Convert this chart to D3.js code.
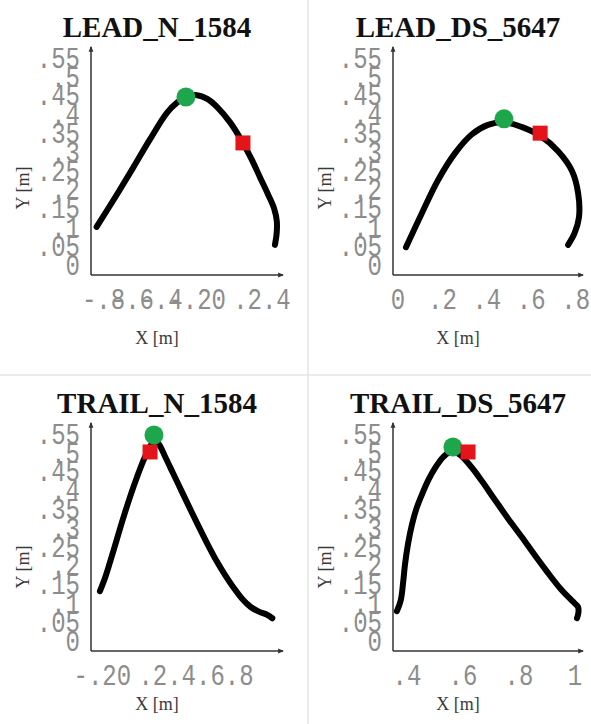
<!DOCTYPE html>
<html lang="en">
<head>
<meta charset="UTF-8">
<title>Trajectories</title>
<style>
  body { margin: 0; background: #fff; }
  .title { font-family: "Liberation Serif", "Times New Roman", serif; font-weight: bold; font-size: 29px; fill: #111; }
  .tick { font-family: "Liberation Mono", "Courier New", monospace; font-size: 24px; fill: #8c8c8c; }
  .axlab { font-family: "Liberation Serif", "Times New Roman", serif; font-size: 18px; fill: #3a3a3a; }
  .axis { stroke: #333; stroke-width: 1.5; fill: none; }
  .sep { stroke: #e4e4e4; stroke-width: 1.5; }
</style>
</head>
<body>
<svg></svg>
<script src="https://d3js.org/d3.v7.min.js"></script>
<script>
const width = 591, height = 724;

// shared y ticks (metres)
const yTicks = [0, .05, .1, .15, .2, .25, .3, .35, .4, .45, .5, .55];
const yDomain = [-0.021, 0.585];

// LEAD_N_1584
const leadNX = [-0.848, -0.72, -0.596, -0.48, -0.36, -0.29, -0.228, -0.151, -0.08, -0.0125, 0.08, 0.168, 0.23, 0.286, 0.34, 0.385, 0.403, 0.402, 0.39];
const leadNY = [0.107, 0.185, 0.263, 0.338, 0.410, 0.437, 0.452, 0.457, 0.447, 0.426, 0.384, 0.330, 0.285, 0.239, 0.195, 0.155, 0.122, 0.09, 0.059];
const leadNTicks = [-.8, -.6, -.4, -.2, 0, .2, .4];
const leadNDomain = [-0.887, 0.446];
const leadNGreen = [-0.228, 0.452], leadNRed = [0.168, 0.330];

// LEAD_DS_5647
const leadDSX = [0.036, 0.108, 0.18, 0.257, 0.333, 0.405, 0.477, 0.559, 0.64, 0.721, 0.784, 0.811, 0.815, 0.795, 0.766];
const leadDSY = [0.053, 0.144, 0.231, 0.303, 0.353, 0.378, 0.385, 0.372, 0.349, 0.308, 0.255, 0.197, 0.133, 0.09, 0.059];
const leadDSTicks = [0, .2, .4, .6, .8];
const leadDSDomain = [-0.0225, 0.833];
const leadDSGreen = [0.477, 0.394], leadDSRed = [0.640, 0.356];

// TRAIL_N_1584
const trailNX = [-0.167, -0.13, -0.097, -0.05, -0.007, 0.045, 0.09, 0.14, 0.181, 0.21, 0.24, 0.29, 0.34, 0.40, 0.46, 0.52, 0.58, 0.64, 0.70, 0.76, 0.82, 0.88, 0.94, 0.99, 1.03];
const trailNY = [0.138, 0.175, 0.215, 0.275, 0.330, 0.392, 0.441, 0.490, 0.522, 0.538, 0.530, 0.492, 0.452, 0.404, 0.356, 0.309, 0.263, 0.220, 0.182, 0.148, 0.118, 0.096, 0.083, 0.076, 0.066];
const trailNTicks = [-.2, 0, .2, .4, .6, .8];
const trailNDomain = [-0.229, 1.104];
const trailNGreen = [0.208, 0.553], trailNRed = [0.181, 0.508];

// TRAIL_DS_5647
const trailDSX = [0.364, 0.378, 0.386, 0.393, 0.404, 0.418, 0.434, 0.454, 0.476, 0.50, 0.53, 0.56, 0.59, 0.63, 0.67, 0.71, 0.76, 0.81, 0.86, 0.90, 0.95, 0.99, 1.011, 1.012, 1.007];
const trailDSY = [0.085, 0.115, 0.16, 0.210, 0.265, 0.316, 0.358, 0.396, 0.433, 0.465, 0.495, 0.510, 0.500, 0.468, 0.428, 0.385, 0.332, 0.282, 0.230, 0.190, 0.143, 0.112, 0.096, 0.08, 0.066];
const trailDSTicks = [.4, .6, .8, 1];
const trailDSDomain = [0.35, 1.0286];
const trailDSGreen = [0.564, 0.521], trailDSRed = [0.618, 0.508];

const panels = [
  {title: "LEAD_N_1584",   xs: leadNX,   ys: leadNY,   ticks: leadNTicks,   dom: leadNDomain,   green: leadNGreen,   red: leadNRed,   col: 0, row: 0},
  {title: "LEAD_DS_5647",  xs: leadDSX,  ys: leadDSY,  ticks: leadDSTicks,  dom: leadDSDomain,  green: leadDSGreen,  red: leadDSRed,  col: 1, row: 0},
  {title: "TRAIL_N_1584",  xs: trailNX,  ys: trailNY,  ticks: trailNTicks,  dom: trailNDomain,  green: trailNGreen,  red: trailNRed,  col: 0, row: 1},
  {title: "TRAIL_DS_5647", xs: trailDSX, ys: trailDSY, ticks: trailDSTicks, dom: trailDSDomain, green: trailDSGreen, red: trailDSRed, col: 1, row: 1, redOnTop: true}
];

const cols = [{x0: 91, x1: 283}, {x0: 393, x1: 583}];
const rows = [{top: 47, bottom: 275, xTitle: 344, yTitle: 188}, {top: 423, bottom: 651, xTitle: 710, yTitle: 567}];

const fmt = v => {
  if (Math.abs(v) < 1e-9) return "0";
  let s = d3.format("~g")(Math.abs(v)).replace(/^0\./, ".");
  return (v < 0 ? "-" : "") + s;
};

const svg = d3.select("svg").attr("width", width).attr("height", height);

svg.append("defs").append("marker")
    .attr("id", "arr")
    .attr("viewBox", "0 0 10 10")
    .attr("refX", 8).attr("refY", 5)
    .attr("markerWidth", 4).attr("markerHeight", 4)
    .attr("orient", "auto")
  .append("path")
    .attr("d", "M0,1 L10,5 L0,9 z")
    .attr("fill", "#333");

// panel separators
svg.append("line").attr("class", "sep").attr("x1", 308).attr("x2", 308).attr("y1", 0).attr("y2", height);
svg.append("line").attr("class", "sep").attr("x1", 0).attr("x2", width).attr("y1", 375).attr("y2", 375);

panels.forEach(p => {
  const c = cols[p.col], r = rows[p.row];
  const x = d3.scaleLinear().domain(p.dom).range([c.x0, c.x1]);
  const y = d3.scaleLinear().domain(yDomain).range([r.bottom, r.top]);
  const g = svg.append("g");
  const mid = (c.x0 + c.x1) / 2 - 30;

  g.append("text").attr("class", "title")
    .attr("x", mid).attr("y", r.top - 10)
    .attr("text-anchor", "middle")
    .text(p.title);

  // axes
  g.append("path").attr("class", "axis")
    .attr("d", `M${c.x0},${r.bottom}H${c.x1}`)
    .attr("marker-end", "url(#arr)");
  g.append("path").attr("class", "axis")
    .attr("d", `M${c.x0},${r.bottom}V${r.top}`)
    .attr("marker-end", "url(#arr)");

  g.selectAll(".ytick").data(yTicks).enter().append("text")
    .attr("class", "tick")
    .attr("text-anchor", "end")
    .attr("dominant-baseline", "central")
    .attr("transform", d => `translate(${c.x0 - 11},${y(d)}) scale(1,1.2)`)
    .text(fmt);

  g.selectAll(".xtick").data(p.ticks).enter().append("text")
    .attr("class", "tick")
    .attr("text-anchor", "middle")
    .attr("dominant-baseline", "central")
    .attr("transform", d => `translate(${x(d)},${r.bottom + 26}) scale(1,1.2)`)
    .text(fmt);

  g.append("text").attr("class", "axlab")
    .attr("x", mid).attr("y", r.xTitle)
    .attr("text-anchor", "middle")
    .text("X [m]");
  g.append("text").attr("class", "axlab")
    .attr("transform", `translate(${c.x0 - 62},${r.yTitle}) rotate(-90)`)
    .attr("text-anchor", "middle")
    .text("Y [m]");

  const line = d3.line().x(d => x(d[0])).y(d => y(d[1])).curve(d3.curveCatmullRom.alpha(0.5));
  g.append("path")
    .datum(p.xs.map((v, i) => [v, p.ys[i]]))
    .attr("d", line)
    .attr("fill", "none")
    .attr("stroke", "#000")
    .attr("stroke-width", 6)
    .attr("stroke-linecap", "round")
    .attr("stroke-linejoin", "round");

  const drawRed = () => g.append("rect")
    .attr("x", x(p.red[0]) - 7.5).attr("y", y(p.red[1]) - 7.5)
    .attr("width", 15).attr("height", 15)
    .attr("fill", "#e3151b");
  const drawGreen = () => g.append("circle")
    .attr("cx", x(p.green[0])).attr("cy", y(p.green[1]))
    .attr("r", 9.5)
    .attr("fill", "#1ea64c");
  if (p.redOnTop) { drawGreen(); drawRed(); } else { drawRed(); drawGreen(); }
});
</script>
</body>
</html>
